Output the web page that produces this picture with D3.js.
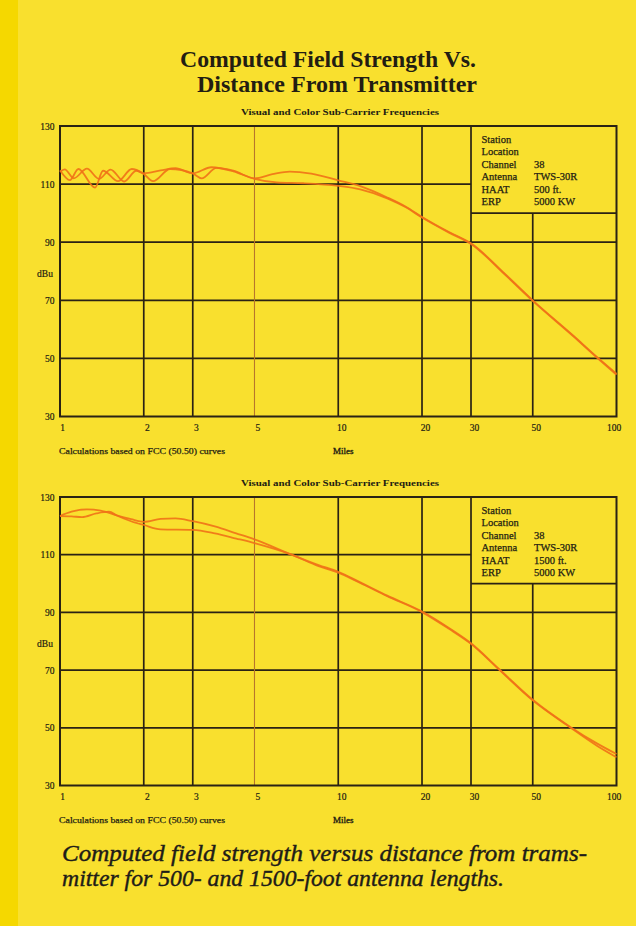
<!DOCTYPE html>
<html>
<head>
<meta charset="utf-8">
<script src="https://cdn.jsdelivr.net/npm/d3@7"></script>
<style>
  html, body { margin: 0; padding: 0; background: #f9e02e; }
  svg { display: block; }
</style>
</head>
<body>
<svg id="chart" width="636" height="926"></svg>
<script>
// ---------------- DATA ----------------
const titleLines = ["Computed Field Strength Vs.", "Distance From Transmitter"];
const subtitle = "Visual and Color Sub-Carrier Frequencies";
const footNote = "Calculations based on FCC (50.50) curves";
const xAxisTitle = "Miles";
const yAxisTitle = "dBu";
const captionLines = ["Computed field strength versus distance from trams-",
                      "mitter for 500- and 1500-foot antenna lengths."];

const xTicks = [1, 2, 3, 5, 10, 20, 30, 50, 100];
const xTickLabels = ["1", "2", "3", "5", "10", "20", "30", "50", "100"];
const yTicks = [30, 50, 70, 90, 110, 130];
const yTickLabels = ["30", "50", "70", "90", "110", "130"];

const stationLabels = ["Station", "Location", "Channel", "Antenna", "HAAT", "ERP"];
const stationValues500 = ["", "", "38", "TWS-30R", "500 ft.", "5000 KW"];
const stationValues1500 = ["", "", "38", "TWS-30R", "1500 ft.", "5000 KW"];

// 500 ft HAAT – two traces [miles, dBu]
const haat500A = [[1.0,114.8],[1.086,111.4],[1.164,115.2],[1.336,108.8],[1.428,114.6],[1.616,111.0],
  [1.811,115.2],[1.988,113.7],[2.16,111.0],[2.487,115.2],[3.0,113.7],[3.23,112.0],[3.65,115.6],
  [4.2,114.6],[5.0,112.0],[5.8,113.4],[6.7,114.3],[8.0,113.6],[10,111.3],[12,109.3],[15,105.4],
  [17.5,102.2],[20,98.7],[25,93.5],[30,89.6],[40,78.8],[50,70.0],[70,57.8],[85,50.5],[100,44.7]];
const haat500B = [[1.0,114.2],[1.04,115.1],[1.12,112.0],[1.25,115.3],[1.38,111.8],[1.52,115.0],
  [1.7,110.9],[1.88,114.6],[2.0,113.7],[2.3,114.7],[2.6,115.5],[3.0,113.7],[3.5,115.8],[4.2,114.4],
  [5.0,111.8],[6.0,110.6],[7.5,110.3],[10,109.4],[12,108.2],[15,105.1],[17.5,102.0],[20,98.5],
  [25,93.3],[30,89.4],[40,78.6],[50,69.8],[70,57.6],[85,50.3],[100,44.4]];

// 1500 ft HAAT – two traces [miles, dBu]
const haat1500A = [[1.0,123.4],[1.1,124.9],[1.25,125.7],[1.4,125.3],[1.6,123.6],[1.8,122.3],
  [2.0,121.4],[2.3,122.4],[2.6,122.6],[3.0,121.6],[3.6,119.8],[4.3,117.4],[5.0,115.3],[6.8,110.0],
  [8.5,106.4],[10,104.1],[12,100.4],[15,95.8],[20,90.3],[25,84.6],[30,79.3],[38,70.2],[50,59.7],
  [68,50.4],[85,44.6],[100,40.9]];
const haat1500B = [[1.0,123.4],[1.1,123.3],[1.2,123.0],[1.35,124.3],[1.5,124.9],[1.6,123.6],
  [1.8,121.6],[2.0,120.3],[2.3,118.8],[3.0,118.6],[3.6,117.4],[4.3,115.6],[5.0,114.0],[6.8,110.0],
  [8.5,106.0],[10,103.8],[12,100.2],[15,95.6],[20,90.1],[25,84.3],[30,79.1],[38,70.0],[50,59.5],
  [68,50.2],[85,43.8],[100,39.8]];

// ---------------- DRAWING ----------------
const svg = d3.select("#chart");
const W = 636, H = 926;
const SERIF = "'Liberation Serif', 'DejaVu Serif', serif";
const INK = "#231d12";
const GRID = "#2a2214";
const CURVE = "#ef7217";

svg.append("rect").attr("x", 0).attr("y", 0).attr("width", W).attr("height", H).attr("fill", "#f9e02e");
svg.append("rect").attr("x", 0).attr("y", 0).attr("width", 18).attr("height", H).attr("fill", "#f5d800");

function inkText(sel, w) {
  return sel.attr("fill", INK).attr("stroke", INK).attr("stroke-width", w).attr("paint-order", "stroke");
}

// Title
inkText(svg.append("text").attr("x", 328).attr("y", 67).attr("text-anchor", "middle")
  .attr("font-family", SERIF).attr("font-weight", "bold").attr("font-size", 23)
  .attr("textLength", 296).attr("lengthAdjust", "spacingAndGlyphs").text(titleLines[0]), 0);
inkText(svg.append("text").attr("x", 337).attr("y", 92).attr("text-anchor", "middle")
  .attr("font-family", SERIF).attr("font-weight", "bold").attr("font-size", 23)
  .attr("textLength", 280).attr("lengthAdjust", "spacingAndGlyphs").text(titleLines[1]), 0);

function drawChart(top, bottom, seriesList, stationValues) {
  const left = 60, right = 616.5;
  const x = d3.scaleLog().domain([1, 100]).range([left, right]);
  const y = d3.scaleLinear().domain([30, 130]).range([bottom, top]);
  const g = svg.append("g");

  // subtitle
  g.append("text").attr("x", 340).attr("y", top - 11).attr("text-anchor", "middle")
    .attr("font-family", SERIF).attr("font-weight", "bold").attr("font-size", 8.5)
    .attr("fill", INK).attr("textLength", 198).attr("lengthAdjust", "spacingAndGlyphs").text(subtitle);

  // horizontal grid lines
  const hLines = yTicks.filter(v => v > 30 && v < 130);
  g.selectAll(".hgrid").data(hLines).enter().append("line")
    .attr("x1", left).attr("x2", d => d === 110 ? x(30) : right)
    .attr("y1", d => y(d)).attr("y2", d => y(d))
    .attr("stroke", GRID).attr("stroke-width", 1.7);

  // vertical grid lines
  const vLines = xTicks.filter(v => v > 1 && v < 100);
  g.selectAll(".vgrid").data(vLines).enter().append("line")
    .attr("x1", d => x(d)).attr("x2", d => x(d))
    .attr("y1", d => d === 50 ? y(100) : top).attr("y2", bottom)
    .attr("stroke", d => d === 5 ? "#b8762c" : GRID)
    .attr("stroke-width", d => d === 5 ? 1.1 : 1.7);

  // station box bottom
  g.append("line").attr("x1", x(30)).attr("x2", right).attr("y1", y(100)).attr("y2", y(100))
    .attr("stroke", GRID).attr("stroke-width", 1.7);

  // frame
  g.append("rect").attr("x", left).attr("y", top).attr("width", right - left).attr("height", bottom - top)
    .attr("fill", "none").attr("stroke", GRID).attr("stroke-width", 2);

  // curves
  const line = d3.line().x(d => x(d[0])).y(d => y(d[1])).curve(d3.curveMonotoneX);
  g.selectAll(".curve").data(seriesList).enter().append("path")
    .attr("d", line).attr("fill", "none").attr("stroke", CURVE)
    .attr("stroke-width", 1.8).attr("stroke-opacity", 0.9).attr("stroke-linejoin", "round");

  // station text
  stationLabels.forEach((lab, i) => {
    const by = top + 16.5 + i * 12.5;
    inkText(g.append("text").attr("x", 481.5).attr("y", by).attr("font-family", SERIF)
      .attr("font-size", 10.5).text(lab), 0.25);
    if (stationValues[i]) inkText(g.append("text").attr("x", 534).attr("y", by).attr("font-family", SERIF)
      .attr("font-size", 10.5).text(stationValues[i]), 0.25);
  });

  // y axis labels
  const yAxis = d3.axisLeft(y).tickValues(yTicks).tickFormat((d, i) => yTickLabels[i]).tickSize(0).tickPadding(5.5);
  const ya = g.append("g").attr("transform", `translate(${left},0)`).call(yAxis);
  ya.select(".domain").remove();
  ya.selectAll("text").attr("font-family", SERIF).attr("font-size", 9.5).attr("fill", INK)
    .attr("stroke", INK).attr("stroke-width", 0.2);

  inkText(g.append("text").attr("x", 45).attr("y", (top + bottom) / 2 + 6).attr("text-anchor", "middle")
    .attr("font-family", SERIF).attr("font-size", 9.5).text(yAxisTitle), 0.2);

  // x axis labels
  const xAxis = d3.axisBottom(x).tickValues(xTicks).tickFormat((d, i) => xTickLabels[i]).tickSize(0).tickPadding(8);
  const xa = g.append("g").attr("transform", `translate(0,${bottom})`).call(xAxis);
  xa.select(".domain").remove();
  xa.selectAll("text").attr("font-family", SERIF).attr("font-size", 9.5).attr("fill", INK)
    .attr("stroke", INK).attr("stroke-width", 0.2)
    .attr("dx", (d, i) => i === 0 ? 2 : (i === xTicks.length - 1 ? -3 : 3));

  inkText(g.append("text").attr("x", 59).attr("y", bottom + 37.5).attr("font-family", SERIF)
    .attr("font-size", 9).attr("textLength", 166).attr("lengthAdjust", "spacingAndGlyphs").text(footNote), 0.25);
  inkText(g.append("text").attr("x", 333).attr("y", bottom + 37.5).attr("font-family", SERIF)
    .attr("font-size", 9).text(xAxisTitle), 0.35);
}

drawChart(126, 416.5, [haat500A, haat500B], stationValues500);
drawChart(497, 785.5, [haat1500A, haat1500B], stationValues1500);

// caption
svg.append("text").attr("x", 62).attr("y", 861).attr("font-family", SERIF).attr("font-style", "italic")
  .attr("font-size", 23).attr("fill", "#1e1c18").attr("stroke", "#1e1c18").attr("stroke-width", 0.4)
  .attr("textLength", 525).attr("lengthAdjust", "spacingAndGlyphs").text(captionLines[0]);
svg.append("text").attr("x", 62).attr("y", 886).attr("font-family", SERIF).attr("font-style", "italic")
  .attr("font-size", 23).attr("fill", "#1e1c18").attr("stroke", "#1e1c18").attr("stroke-width", 0.4)
  .attr("textLength", 442).attr("lengthAdjust", "spacingAndGlyphs").text(captionLines[1]);
</script>
</body>
</html>
